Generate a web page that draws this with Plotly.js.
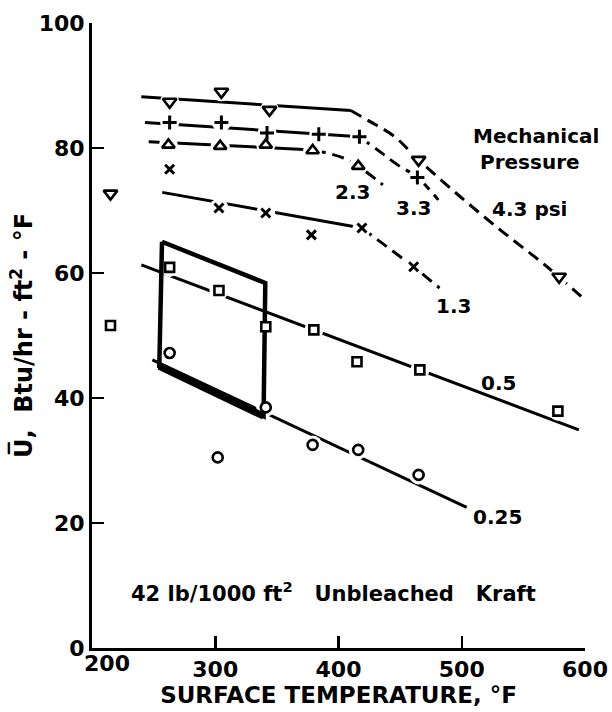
<!DOCTYPE html>
<html>
<head>
<meta charset="utf-8">
<script src="https://cdn.plot.ly/plotly-3.0.1.min.js"></script>
<style>
  html, body { margin: 0; padding: 0; background: #fff; }
  #chart { width: 612px; height: 712px; }
</style>
</head>
<body>
<div id="chart"></div>
<script>
// Overall heat transfer coefficient vs. surface temperature,
// 42 lb/1000 ft2 unbleached kraft, at several mechanical pressures.

// Measured points, surface temperature (°F) and U (Btu/hr-ft2-°F)
const temp43 = [215, 263, 305, 344, 465, 579];
const u43    = [72.7, 87.4, 89.0, 86.1, 78.1, 59.4];
const temp33 = [263, 305, 342, 384, 417, 464];
const u33    = [84.1, 84.1, 82.4, 82.2, 81.8, 75.3];
const temp23 = [262, 304, 341, 379, 416];
const u23    = [80.5, 80.3, 80.5, 79.6, 77.1];
const temp13 = [263, 303, 341, 378, 419, 461];
const u13    = [76.6, 70.4, 69.6, 66.1, 67.2, 61.0];
const temp05 = [215, 263, 303, 341, 380, 415, 466, 578];
const u05    = [51.6, 60.9, 57.2, 51.4, 50.9, 45.8, 44.5, 37.9];
const temp025 = [263, 302, 341, 379, 416, 465];
const u025    = [47.2, 30.5, 38.5, 32.5, 31.7, 27.7];

// Faired curves: solid portion, then dashed extension
const fit43T = [240, 410];            const fit43U = [88.2, 86.0];
const ext43T = [410, 425, 445, 465, 500, 535, 568, 600];
const ext43U = [86.0, 84.3, 81.9, 78.1, 72.0, 66.3, 61.2, 55.7];
const fit33T = [243, 417];            const fit33U = [84.1, 81.8];
const ext33T = [417, 433, 448, 464, 481];
const ext33U = [81.8, 79.5, 77.3, 75.3, 71.7];
const fit23T = [246, 380];            const fit23U = [81.0, 79.7];
const ext23T = [380, 404, 416, 436];
const ext23U = [79.7, 78.4, 77.1, 74.1];
const fit13T = [257, 419];            const fit13U = [72.9, 67.2];
const ext13T = [419, 461, 482];
const ext13U = [67.2, 61.0, 57.6];
const fit05T = [240, 595];            const fit05U = [61.3, 34.9];
const fit025T = [249, 504];           const fit025U = [46.1, 22.5];

// Outlined operating region
const regionT = [256.8, 340.6, 339.2, 254.6, 256.8];
const regionU = [65.0, 58.4, 37.1, 45.05, 65.0];
const regionBaseT = [254.6, 339.2];
const regionBaseU = [45.05, 37.1];

// Curve labels
const labelText = ['2.3', '3.3', '1.3', '0.5', '0.25'];
const labelT    = [411, 461, 493, 530, 529];
const labelU    = [72.9, 70.4, 54.8, 42.4, 20.9];

// Axis ticks
const xTickVals = [200, 300, 400, 500, 600];
const xTickText = ['200', '300', '400', '500', '600'];
const yTickVals = [0, 20, 40, 60, 80, 100];
const yTickText = ['0', '20', '40', '60', '80', '100'];

const INK = '#000';
const FONT = 'DejaVu Sans, Verdana, sans-serif';
const dashPat = '12px,7px';

function curve(x, y, dash, shape) {
  return { x: x, y: y, type: 'scatter', mode: 'lines', hoverinfo: 'skip',
           line: { color: INK, width: 3, dash: dash || 'solid', shape: shape || 'linear' } };
}
function halo(x, y) {
  return { x: x, y: y, type: 'scatter', mode: 'markers', hoverinfo: 'skip',
           marker: { symbol: 'circle', size: 19, color: '#fff', line: { width: 0 } } };
}
function points(x, y, symbol, size, filled) {
  return { x: x, y: y, type: 'scatter', mode: 'markers',
           marker: { symbol: symbol, size: size,
                     color: filled ? '#fff' : INK,
                     line: { color: INK, width: filled ? 2.6 : 3 } } };
}

const series = [
  [temp43, u43, 'triangle-down', 12, true],
  [temp33, u33, 'cross-thin', 10, false],
  [temp23, u23, 'triangle-up', 11, true],
  [temp13, u13, 'x-thin', 9, false],
  [temp05, u05, 'square', 9, true],
  [temp025, u025, 'circle', 10, true]
];

const traces = [
  curve(fit43T, fit43U), curve(ext43T, ext43U, dashPat, 'spline'),
  curve(fit33T, fit33U), curve(ext33T, ext33U, dashPat, 'spline'),
  curve(fit23T, fit23U), curve(ext23T, ext23U, dashPat, 'spline'),
  curve(fit13T, fit13U), curve(ext13T, ext13U, dashPat),
  curve(fit05T, fit05U),
  curve(fit025T, fit025U)
];
series.forEach(s => traces.push(halo(s[0], s[1])));
traces.push({ x: regionT, y: regionU, type: 'scatter', mode: 'lines', hoverinfo: 'skip',
              line: { color: INK, width: 4.5 } });
traces.push({ x: regionBaseT, y: regionBaseU, type: 'scatter', mode: 'lines', hoverinfo: 'skip',
              line: { color: INK, width: 7 } });
series.forEach(s => traces.push(points(s[0], s[1], s[2], s[3], s[4])));
// last marker set rides on the overlay axis that carries the shifted "200" label
traces[traces.length - 1].xaxis = 'x2';

const labelFont = { family: FONT, size: 20, color: INK, weight: 'bold' };
const annotations = labelText.map((t, i) => ({
  x: labelT[i], y: labelU[i], xref: 'x', yref: 'y', text: t, showarrow: false, font: labelFont
}));
annotations.push(
  { x: 560, y: 81.9, xref: 'x', yref: 'y', text: 'Mechanical', showarrow: false, font: labelFont },
  { x: 555, y: 77.8, xref: 'x', yref: 'y', text: 'Pressure', showarrow: false, font: labelFont },
  { x: 555, y: 70.3, xref: 'x', yref: 'y', text: '4.3 psi', showarrow: false, font: labelFont },
  { x: 396, y: 8.9, xref: 'x', yref: 'y',
    text: '42 lb/1000 ft<sup>2</sup>\u00a0\u00a0 Unbleached\u00a0\u00a0 Kraft', showarrow: false,
    font: { family: FONT, size: 21, color: INK, weight: 'bold' } }
);

const tickFont = { family: FONT, size: 22, color: INK, weight: 'bold' };
const axisCommon = {
  showgrid: false, zeroline: false, showline: true, linecolor: INK, linewidth: 3,
  ticks: 'inside', ticklen: 12, tickwidth: 2.5, tickcolor: INK, mirror: false,
  tickfont: tickFont, fixedrange: true
};

const layout = {
  width: 612, height: 712,
  margin: { l: 92, r: 27, t: 23, b: 64 },
  paper_bgcolor: '#fff', plot_bgcolor: '#fff',
  showlegend: false,
  xaxis: Object.assign({}, axisCommon, {
    range: [200, 600], tickvals: xTickVals,
    ticktext: xTickText.map((s, i) => i === 0 ? '' : s),
    title: { text: 'SURFACE TEMPERATURE, °F', standoff: 6,
             font: { family: FONT, size: 23, color: INK, weight: 'bold' } }
  }),
  xaxis2: {
    overlaying: 'x', matches: 'x', anchor: 'y', side: 'bottom',
    range: [200, 600], tickvals: [xTickVals[0]], ticktext: [xTickText[0]],
    ticklabelshift: 15, showline: false, showgrid: false, zeroline: false,
    ticks: '', tickfont: tickFont, fixedrange: true
  },
  yaxis: Object.assign({}, axisCommon, {
    range: [0, 100], tickvals: yTickVals, ticktext: yTickText,
    title: { text: 'U\u0305,\u00a0\u00a0Btu/hr - ft<sup>2</sup> - °F', standoff: 0,
             font: { family: FONT, size: 24, color: INK, weight: 'bold' } }
  }),
  annotations: annotations
};

Plotly.newPlot('chart', traces, layout, { staticPlot: true, displayModeBar: false });
</script>
</body>
</html>
